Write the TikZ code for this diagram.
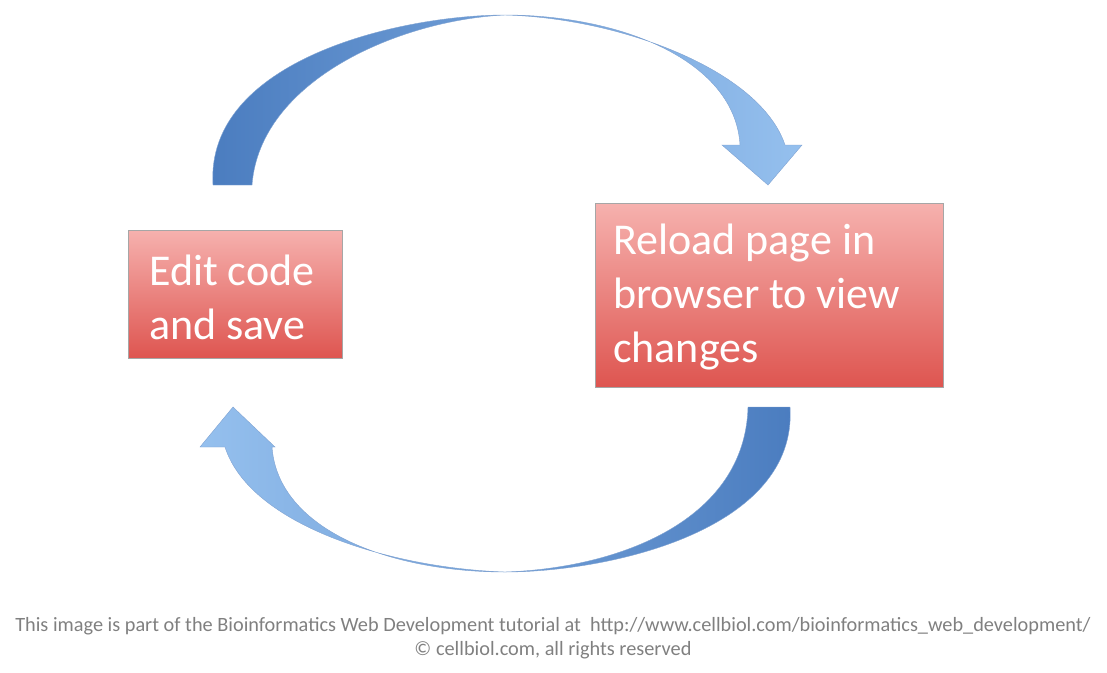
\documentclass[tikz,border=0pt]{standalone}
\usepackage{fontspec}
\setmainfont{Carlito}
\definecolor{btop}{HTML}{F6B1AE}
\definecolor{bbot}{HTML}{DE5550}
\definecolor{adark}{HTML}{4A7CBF}
\definecolor{alight}{HTML}{95C0EE}
\begin{document}
\begin{tikzpicture}[x=1pt,y=-1pt,
  box/.style={draw=gray!70,top color=btop,bottom color=bbot,anchor=north west,inner sep=0pt},
  lab/.style={text=white,font=\fontsize{44}{54}\selectfont,align=left,anchor=west,inner sep=0pt},
  arr/.style={draw=adark!70,line width=0.4pt}]
\useasboundingbox (0,0) rectangle (1107,672);
\shade[arr,left color=adark,right color=alight]
 (213,185) .. controls (205,60) and (400,15) .. (505,15) .. controls (620,15) and (735,60) .. (740,145) -- (722,145) -- (768,185) -- (802,145) -- (785,145) .. controls (760,70) and (620,18) .. (505,15) .. controls (400,20) and (260,80) .. (252,185) -- cycle;
\shade[arr,right color=adark,left color=alight]
 (790,407) .. controls (798,530) and (610,572) .. (505,572) .. controls (390,572) and (278,530) .. (272,447) -- (275,447) -- (233,407) -- (200,447) -- (225,447) .. controls (250,525) and (390,568) .. (505,572) .. controls (620,568) and (745,520) .. (748,407) -- cycle;
\node[box,minimum width=214,minimum height=128] (L) at (128,230) {};
\node[lab] (Lt) at (149,297) {Edit code\\and save};
\node[box,minimum width=348,minimum height=184] (R) at (595,203) {};
\node[lab] (Rt) at (613,297) {Reload page in\\browser to view\\changes};
\node[text=gray,font=\fontsize{20.3}{24}\selectfont,align=center] (foot) at (553,638) {This image is part of the Bioinformatics Web Development tutorial at \ http://www.cellbiol.com/bioinformatics\_web\_development/\\© cellbiol.com, all rights reserved};
\end{tikzpicture}
\end{document}
